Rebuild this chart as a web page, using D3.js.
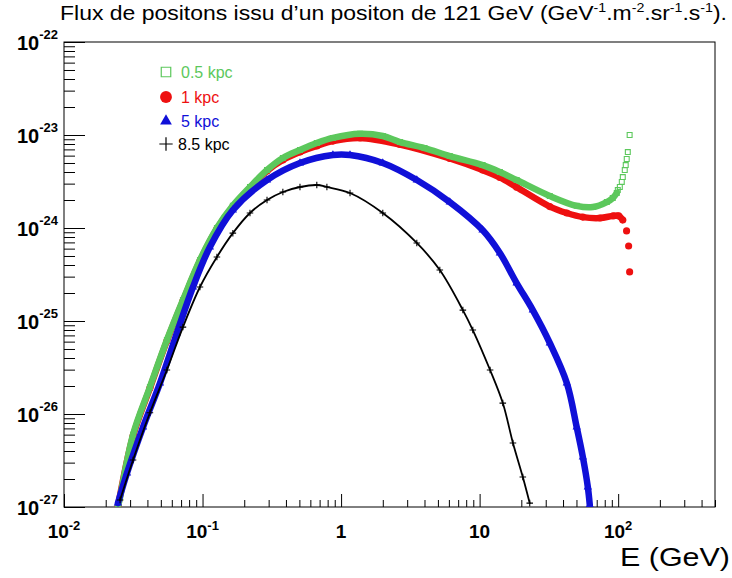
<!DOCTYPE html>
<html><head><meta charset="utf-8">
<script src="https://cdn.jsdelivr.net/npm/d3@7"></script>
<style>
body{margin:0;background:#fff}
svg{display:block;font-family:"Liberation Sans",Arial,Helvetica,sans-serif}
</style>
</head><body>
<svg id="chart" width="732" height="578"></svg>
<script>
// ---- data ----
const legendLabels = ["0.5 kpc", "1 kpc", "5 kpc", "8.5 kpc"];

const energyGreen = [0.0245,0.0254,0.0315,0.0417,0.0553,0.0722,0.0958,0.127,0.1655,0.220,0.292,0.380,0.505,0.668,0.873,1.37,2.0,2.66,4.0,6.09,10.5,14.0,18.5,32.1,50.2,65.6,82.8,91.4,97.7,99.4,102.8,106.2,108,111.6,113.4,115.3,117.4,121];
const fluxGreen   = [1.0e-27,1.28e-27,6.0e-27,1.95e-26,6.25e-26,1.68e-25,4.53e-25,1.0e-24,1.74e-24,2.76e-24,4.2e-24,5.66e-24,6.9e-24,8.2e-24,9.3e-24,1.03e-23,9.75e-24,8.4e-24,7.24e-24,5.94e-24,4.75e-24,4.0e-24,3.28e-24,2.21e-24,1.73e-24,1.68e-24,1.9e-24,2.1e-24,2.38e-24,2.56e-24,2.76e-24,3.13e-24,3.53e-24,4.2e-24,4.75e-24,5.52e-24,6.56e-24,1.0e-23];

const energyRed = [0.0245,0.0315,0.0417,0.0553,0.0722,0.0958,0.127,0.1655,0.220,0.292,0.380,0.505,0.668,0.873,1.37,2.66,6.09,10.5,14.0,18.5,32.1,42.6,55.6,74.1,92.2,101,108,115,119,121];
const fluxRed   = [1.0e-27,5.8e-27,1.9e-26,6.1e-26,1.64e-25,4.42e-25,9.8e-25,1.7e-24,2.69e-24,4.1e-24,5.38e-24,6.56e-24,7.62e-24,8.6e-24,9.3e-24,7.9e-24,5.6e-24,4.2e-24,3.5e-24,2.75e-24,1.7e-24,1.45e-24,1.31e-24,1.28e-24,1.35e-24,1.35e-24,1.22e-24,9.3e-25,6.4e-25,3.37e-25];

const energyBlue = [0.0245,0.0285,0.0372,0.0493,0.0653,0.0853,0.113,0.1655,0.292,0.505,0.873,1.16,2.0,3.52,6.09,10.5,14.0,18.5,24.2,32.1,42.6,50.2,55.6,60.4,62.4];
const fluxBlue   = [1.1e-27,2.32e-27,7.24e-27,2.15e-26,7.43e-26,2.32e-25,6.25e-25,1.56e-24,3.28e-24,5.0e-24,6.1e-24,6.1e-24,5.0e-24,3.28e-24,1.9e-24,9.5e-25,5.38e-25,2.56e-25,1.31e-25,5.8e-26,2.15e-26,7.24e-27,3.45e-27,1.64e-27,1.05e-27];

const energyBlack = [0.0254,0.0315,0.0417,0.0553,0.0722,0.0958,0.127,0.1655,0.220,0.292,0.380,0.505,0.668,0.79,1.16,2.0,3.52,5.16,7.57,8.93,11.9,14.7,17.4,20.5,23.0];
const fluxBlack   = [1.19e-27,3.2e-27,1.03e-26,2.97e-26,8.6e-26,2.32e-25,4.88e-25,8.8e-25,1.45e-24,2.0e-24,2.44e-24,2.76e-24,2.9e-24,2.76e-24,2.38e-24,1.45e-24,6.9e-25,3.53e-25,1.31e-25,8.0e-26,2.97e-26,1.31e-26,4.88e-27,2.1e-27,1.1e-27];

const xTickValues = [0.01, 0.1, 1, 10, 100];
const xTickBase   = ["10", "10", "1", "10", "10"];
const xTickExp    = ["-2", "-1", "", "", "2"];
const yTickValues = [1e-22, 1e-23, 1e-24, 1e-25, 1e-26, 1e-27];
const yTickBase   = ["10", "10", "10", "10", "10", "10"];
const yTickExp    = ["-22", "-23", "-24", "-25", "-26", "-27"];

// ---- layout ----
const svg = d3.select("#chart");
const L = 64, R = 715, T = 42, B = 507;
const x = d3.scaleLog().domain([0.01, 500]).range([L, R]);
const y = d3.scaleLog().domain([1e-27, 1e-22]).range([B, T]);

const colGreen = "#5cc85c", colRed = "#ee1010", colBlue = "#1010d8", colBlack = "#000";

// title
const title = svg.append("text").attr("x", 60).attr("y", 20)
  .attr("font-size", 21).attr("fill", "#000")
  .attr("textLength", 667).attr("lengthAdjust", "spacingAndGlyphs");
title.append("tspan").text("Flux de positons issu d\u2019un positon de 121 GeV (GeV");
const supParts = [["-1", ".m"], ["-2", ".sr"], ["-1", ".s"], ["-1", ")."]];
supParts.forEach(([s, t]) => {
  title.append("tspan").attr("dy", -8).attr("font-size", 13).text(s);
  title.append("tspan").attr("dy", 8).text(t);
});

// frame
svg.append("rect").attr("x", L).attr("y", T).attr("width", R - L).attr("height", B - T)
  .attr("fill", "#fff").attr("stroke", "#000").attr("stroke-width", 1);

// minor/major ticks
const xMinor = x.ticks().filter(v => !xTickValues.some(m => Math.abs(m - v) / m < 1e-6));
const yMinor = y.ticks().filter(v => !yTickValues.some(m => Math.abs(m - v) / m < 1e-6));

const gx = svg.append("g").attr("transform", `translate(0,${B})`);
gx.call(d3.axisBottom(x).tickValues(xTickValues).tickSize(-13).tickFormat(""));
gx.append("g").call(d3.axisBottom(x).tickValues(xMinor).tickSize(-7).tickFormat(""));
gx.selectAll(".domain").remove();
gx.selectAll("line").attr("stroke", "#000");

const gy = svg.append("g").attr("transform", `translate(${L},0)`);
gy.call(d3.axisLeft(y).tickValues(yTickValues).tickSize(-21).tickFormat(""));
gy.append("g").call(d3.axisLeft(y).tickValues(yMinor).tickSize(-11).tickFormat(""));
gy.selectAll(".domain").remove();
gy.selectAll("line").attr("stroke", "#000");

// tick labels
xTickValues.forEach((v, i) => {
  const t = svg.append("text").attr("x", x(v)).attr("y", 538)
    .attr("text-anchor", "middle").attr("font-size", 19).attr("font-weight", "bold");
  t.append("tspan").text(xTickBase[i]);
  if (xTickExp[i]) t.append("tspan").attr("dy", -8).attr("font-size", 13).text(xTickExp[i]);
});
yTickValues.forEach((v, i) => {
  const t = svg.append("text").attr("x", 58).attr("y", y(v) + 8)
    .attr("text-anchor", "end").attr("font-size", 20).attr("font-weight", "bold");
  t.append("tspan").text(yTickBase[i]);
  t.append("tspan").attr("dy", -11).attr("font-size", 13).text(yTickExp[i]);
});

// axis title
svg.append("text").attr("x", 620).attr("y", 566)
  .attr("font-size", 26).attr("textLength", 110).attr("lengthAdjust", "spacingAndGlyphs")
  .text("E (GeV)");

// clip
svg.append("clipPath").attr("id", "clip").append("rect")
  .attr("x", L).attr("y", T).attr("width", R - L).attr("height", B - T);
const plot = svg.append("g").attr("clip-path", "url(#clip)");

const line = d3.line().x(d => x(d[0])).y(d => y(d[1])).curve(d3.curveCatmullRom.alpha(0.5));
const zipS = (e, f) => e.map((v, i) => [v, f[i]]);

// bandEnd: energy up to which the dense markers merge into a continuous band
const series = [
  { e: energyRed,   f: fluxRed,   col: colRed,   w: 6.5, bandEnd: 108,  sym: d3.symbolCircle,   size: 40, fill: true },
  { e: energyGreen, f: fluxGreen, col: colGreen, w: 6.5, bandEnd: 97.7, sym: d3.symbolSquare,   size: 24, fill: false },
  { e: energyBlue,  f: fluxBlue,  col: colBlue,  w: 6.5, bandEnd: 1e9,  sym: d3.symbolTriangle, size: 30, fill: true },
  { e: energyBlack, f: fluxBlack, col: colBlack, w: 1.8, bandEnd: 1e9,  sym: d3.symbolPlus || d3.symbolCross, size: 16, fill: false }
];

series.forEach(s => {
  const pts = zipS(s.e, s.f);
  plot.append("path").datum(pts.filter(d => d[0] <= s.bandEnd)).attr("d", line).attr("fill", "none")
    .attr("stroke", s.col).attr("stroke-width", s.w).attr("stroke-linecap", "round");
  plot.selectAll(null).data(pts).enter().append("path")
    .attr("transform", d => `translate(${x(d[0])},${y(d[1])})`)
    .attr("d", d3.symbol().type(s.sym).size(s.size))
    .attr("fill", s.fill ? s.col : "none")
    .attr("stroke", s.col).attr("stroke-width", s.fill ? 0 : 1.1);
});

// legend
const legY = [72, 97, 121, 144];
const legCols = [colGreen, colRed, colBlue, colBlack];
const legSyms = [d3.symbolSquare, d3.symbolCircle, d3.symbolTriangle, d3.symbolPlus || d3.symbolCross];
const legSizes = [90, 110, 60, 60];
const legFill = [false, true, true, false];
legendLabels.forEach((lab, i) => {
  svg.append("path").attr("transform", `translate(166,${legY[i]})`)
    .attr("d", d3.symbol().type(legSyms[i]).size(legSizes[i]))
    .attr("fill", legFill[i] ? legCols[i] : "none")
    .attr("stroke", legCols[i]).attr("stroke-width", legFill[i] ? 0 : 1.2);
  svg.append("text").attr("x", i === 3 ? 178 : 181).attr("y", legY[i] + 6)
    .attr("font-size", 16).attr("fill", legCols[i]).text(lab);
});
</script>
</body></html>
